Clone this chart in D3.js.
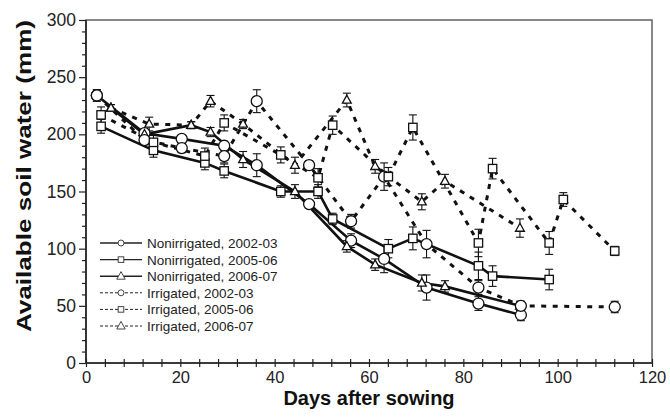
<!DOCTYPE html>
<html><head><meta charset="utf-8">
<script src="https://cdn.jsdelivr.net/npm/d3@7"></script>
<style>body{margin:0;background:#fff} text{font-family:"Liberation Sans",Arial,sans-serif}</style>
</head><body><svg id="c" width="670" height="420"></svg>
<script>
// ---- data ----
const seriesNames = ["Nonirrigated, 2002-03","Nonirrigated, 2005-06","Nonirrigated, 2006-07","Irrigated, 2002-03","Irrigated, 2005-06","Irrigated, 2006-07"];
const seriesShapes = ["circle","square","triangle","circle","square","triangle"];
const seriesDashed = [false,false,false,true,true,true];

const nonIrr0203Days = [2.3,12.4,20.3,29.3,36.2,47.3,56.2,63.2,72.2,83.2,92.2];
const nonIrr0203 =     [234,201,196,190,173,139,107,91,66,52,42];
const nonIrr0203Err =  [5,3,3,4,10,3,6,12,11,6,5];

const nonIrr0506Days = [3.2,14.3,25.2,29.3,41.3,49.2,52.3,64.1,69.3,83.2,86.2,98.2];
const nonIrr0506 =     [207,186,175,168,150,150,126,100,109,85,76,73];
const nonIrr0506Err =  [6,6,6,6,5,6,5,8,10,12,9,9];

const nonIrr0607Days = [5.3,12.4,22.3,26.4,33.3,44.3,55.3,61.3,71.2,76.1,92.0];
const nonIrr0607 =     [223,200,208,202,178,150,102,86,70,67,50];
const nonIrr0607Err =  [3,4,3,4,7,6,5,5,7,5,4];

const irr0203Days = [2.3,12.4,20.3,29.3,36.2,47.3,56.2,63.2,72.2,83.2,92.2,112.1];
const irr0203 =     [234,195,188,181,229,173,124,163,104,66,50,49];
const irr0203Err =  [5,4,4,6,10,4,6,12,12,6,4,5];

const irr0506Days = [3.2,14.3,25.2,29.3,41.3,49.2,52.3,64.1,69.3,83.2,86.2,98.2,101.2,112.1];
const irr0506 =     [217,193,181,210,182,162,208,163,206,105,170,105,143,98];
const irr0506Err =  [7,6,7,7,7,8,8,8,11,12,9,10,6,4];

const irr0607Days = [5.3,13.4,22.3,26.4,33.3,44.3,55.3,61.3,71.2,76.1,92.0];
const irr0607 =     [223,209,208,229,209,173,230,172,141,159,118];
const irr0607Err =  [3,6,3,5,4,7,6,6,7,6,8];

const xMajorTicks = [0,20,40,60,80,100,120];
const yMajorTicks = [0,50,100,150,200,250,300];
const xTitle = "Days after sowing";
const yTitle = "Available soil water (mm)";

// ---- build ----
const allDays = [nonIrr0203Days,nonIrr0506Days,nonIrr0607Days,irr0203Days,irr0506Days,irr0607Days];
const allVals = [nonIrr0203,nonIrr0506,nonIrr0607,irr0203,irr0506,irr0607];
const allErr  = [nonIrr0203Err,nonIrr0506Err,nonIrr0607Err,irr0203Err,irr0506Err,irr0607Err];
const series = seriesNames.map((n,i)=>({name:n,shape:seriesShapes[i],dashed:seriesDashed[i],
  pts: allDays[i].map((d,j)=>({d, v: allVals[i][j], e: allErr[i][j]}))}));

const svg = d3.select("#c");
const x = d3.scaleLinear().domain([0,120]).range([86,652]);
const y = d3.scaleLinear().domain([0,300]).range([363,20]);

// frame
svg.append("rect").attr("x",x(0)).attr("y",y(300)).attr("width",x(120)-x(0)).attr("height",y(0)-y(300))
  .attr("fill","none").attr("stroke","#6a6a6a").attr("stroke-width",1.6);

// x axis ticks crossing
const gxt = svg.append("g").attr("transform",`translate(0,${y(0)-4})`)
  .call(d3.axisBottom(x).tickValues(d3.range(0,121,4)).tickSize(8).tickFormat(""));
gxt.select(".domain").remove();
gxt.selectAll("line").attr("stroke","#222").attr("stroke-width",1.2);
const gxl = svg.append("g").attr("transform",`translate(0,${y(0)})`)
  .call(d3.axisBottom(x).tickValues(xMajorTicks).tickSize(0).tickPadding(8));
gxl.select(".domain").remove();
gxl.selectAll("text").attr("font-size",16.5).attr("fill","#222").attr("font-family","Liberation Sans, Arial, sans-serif");

// y axis
const gym = svg.append("g").attr("transform",`translate(${x(0)},0)`)
  .call(d3.axisLeft(y).tickValues(d3.range(0,301,10).filter(v=>v%50)).tickSize(4).tickFormat(""));
gym.select(".domain").remove();
gym.selectAll("line").attr("stroke","#222").attr("stroke-width",1.2);
const gy = svg.append("g").attr("transform",`translate(${x(0)},0)`)
  .call(d3.axisLeft(y).tickValues(yMajorTicks).tickSize(7).tickPadding(3));
gy.select(".domain").remove();
gy.selectAll("line").attr("stroke","#222").attr("stroke-width",1.2);
gy.selectAll("text").attr("font-size",17.5).attr("fill","#222").attr("font-family","Liberation Sans, Arial, sans-serif");

// axis lines
svg.append("line").attr("x1",x(0)).attr("x2",x(0)).attr("y1",y(0)).attr("y2",y(300)).attr("stroke","#222").attr("stroke-width",1.6);
svg.append("line").attr("x1",x(0)).attr("x2",x(120)).attr("y1",y(0)).attr("y2",y(0)).attr("stroke","#222").attr("stroke-width",1.6);

// titles
svg.append("text").attr("x",(x(0)+x(120))/2).attr("y",405).attr("text-anchor","middle")
  .attr("font-size",20).attr("font-weight","bold").attr("fill","#111").text(xTitle);
svg.append("text").attr("transform","translate(31,176) rotate(-90)").attr("text-anchor","middle")
  .attr("font-size",20).attr("font-weight","bold").attr("fill","#111")
  .attr("textLength",312).attr("lengthAdjust","spacingAndGlyphs").text(yTitle);

// marker drawing
function marker(g, shape, cx, cy, s){
  if(shape==="circle") g.append("circle").attr("cx",cx).attr("cy",cy).attr("r",s);
  else if(shape==="square") g.append("rect").attr("x",cx-s).attr("y",cy-s).attr("width",2*s).attr("height",2*s);
  else g.append("path").attr("d",`M${cx},${cy-s*1.15}L${cx+s*1.05},${cy+s*0.75}L${cx-s*1.05},${cy+s*0.75}Z`);
}

const line = d3.line().x(p=>x(p.d)).y(p=>y(p.v));
const plot = svg.append("g");
// error bars
series.forEach(s=>{
  const g = plot.append("g").attr("stroke","#111").attr("stroke-width",1.1);
  s.pts.forEach(p=>{
    g.append("line").attr("x1",x(p.d)).attr("x2",x(p.d)).attr("y1",y(p.v-p.e)).attr("y2",y(p.v+p.e));
    [p.v-p.e,p.v+p.e].forEach(v=>g.append("line").attr("x1",x(p.d)-4).attr("x2",x(p.d)+4).attr("y1",y(v)).attr("y2",y(v)));
  });
});
// lines
series.forEach(s=>{
  plot.append("path").datum(s.pts).attr("d",line).attr("fill","none").attr("stroke","#111")
    .attr("stroke-width",s.dashed?3:2.6).attr("stroke-dasharray",s.dashed?"5,6.5":null);
});
// markers
series.forEach(s=>{
  const g = plot.append("g").attr("fill","#fff").attr("stroke","#111").attr("stroke-width",1.3);
  s.pts.forEach(p=>marker(g,s.shape,x(p.d),y(p.v),s.shape==="circle"?5.5:4.2));
});

// legend
const lg = svg.append("g");
series.forEach((s,i)=>{
  const cy = 243 + i*16.6;
  const g = lg.append("g");
  g.append("line").attr("x1",100).attr("x2",142).attr("y1",cy).attr("y2",cy)
    .attr("stroke","#222").attr("stroke-width",s.dashed?1:1.4).attr("stroke-dasharray",s.dashed?"3,2":null);
  const mg = g.append("g").attr("fill","#fff").attr("stroke","#444").attr("stroke-width",1);
  marker(mg,s.shape,121,cy,s.shape==="circle"?3:(s.shape==="square"?2.8:4));
  g.append("text").attr("x",147).attr("y",cy+5).attr("font-size",13.5).attr("fill","#222").text(s.name);
});
</script></body></html>
